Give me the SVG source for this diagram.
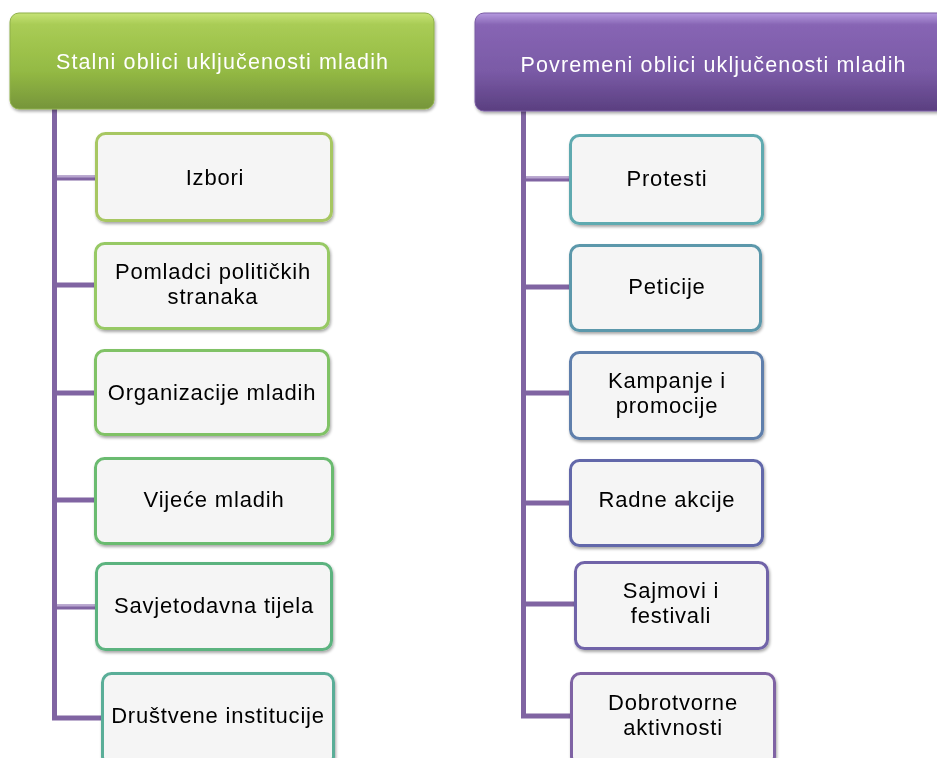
<svg xmlns="http://www.w3.org/2000/svg" width="937" height="758" viewBox="0 0 937 758">
<defs>
<linearGradient id="gGreen" x1="0" y1="0" x2="0" y2="1">
<stop offset="0" stop-color="#c6e376"/>
<stop offset="0.12" stop-color="#a9cc55"/>
<stop offset="0.6" stop-color="#94ba44"/>
<stop offset="1" stop-color="#76953a"/>
</linearGradient>
<linearGradient id="gPurple" x1="0" y1="0" x2="0" y2="1">
<stop offset="0" stop-color="#b69ae0"/>
<stop offset="0.12" stop-color="#8765b4"/>
<stop offset="0.6" stop-color="#7a5aa6"/>
<stop offset="1" stop-color="#5a3f80"/>
</linearGradient>
<filter id="sh" x="-10%" y="-10%" width="120%" height="130%">
<feGaussianBlur in="SourceAlpha" stdDeviation="1.5"/>
<feOffset dx="1" dy="2" result="b"/>
<feComponentTransfer><feFuncA type="linear" slope="0.35"/></feComponentTransfer>
<feMerge><feMergeNode/><feMergeNode in="SourceGraphic"/></feMerge>
</filter>
</defs>
<style>
.hdr{font-family:"Liberation Sans",Arial,sans-serif;font-size:21.5px;fill:#ffffff;text-anchor:middle}
.lbl{font-family:"Liberation Sans",Arial,sans-serif;font-size:22px;fill:#000000;text-anchor:middle;letter-spacing:0.8px}
.box{fill:#f5f5f5;stroke-width:3}
.ln{stroke:#8064a2;stroke-width:5;fill:none}
.hl{stroke:#b8a5cf;stroke-width:2;fill:none}
</style>
<g id="connectors">
<polyline class="ln" points="54.5,108 54.5,718 102,718"/>
<line class="ln" x1="54.5" y1="178" x2="96" y2="178"/>
<line class="hl" x1="57" y1="176.5" x2="96" y2="176.5"/>
<line class="ln" x1="54.5" y1="285" x2="95" y2="285"/>
<line class="ln" x1="54.5" y1="393" x2="95" y2="393"/>
<line class="ln" x1="54.5" y1="500" x2="95" y2="500"/>
<line class="ln" x1="54.5" y1="607" x2="96" y2="607"/>
<line class="hl" x1="57" y1="605.5" x2="96" y2="605.5"/>
<polyline class="ln" points="523.5,110 523.5,716 571,716"/>
<line class="ln" x1="523.5" y1="179" x2="570" y2="179"/>
<line class="hl" x1="526" y1="177.5" x2="570" y2="177.5"/>
<line class="ln" x1="523.5" y1="287" x2="570" y2="287"/>
<line class="ln" x1="523.5" y1="393" x2="570" y2="393"/>
<line class="ln" x1="523.5" y1="503" x2="570" y2="503"/>
<line class="ln" x1="523.5" y1="604" x2="575" y2="604"/>
</g>
<g id="hdr-left" filter="url(#sh)">
<rect x="10" y="13" width="424" height="96" rx="9" fill="url(#gGreen)" stroke="#8fb04a" stroke-width="1"/>
<text class="hdr" x="222" y="69" textLength="332" lengthAdjust="spacing">Stalni oblici uključenosti mladih</text>
</g>
<g id="hdr-right" filter="url(#sh)">
<rect x="475" y="13" width="480" height="98" rx="9" fill="url(#gPurple)" stroke="#7a5ca4" stroke-width="1"/>
<text class="hdr" x="713" y="72" textLength="385" lengthAdjust="spacing">Povremeni oblici uključenosti mladih</text>
</g>
<g id="n-izbori" filter="url(#sh)">
<rect class="box" x="96.5" y="133.5" width="235" height="87" rx="9" stroke="#a7c762"/>
<text class="lbl" x="215" y="185">Izbori</text>
</g>
<g id="n-pomladci" filter="url(#sh)">
<rect class="box" x="95.5" y="243.5" width="233" height="85" rx="9" stroke="#97c965"/>
<text class="lbl" x="213" y="279">Pomladci političkih</text>
<text class="lbl" x="213" y="304">stranaka</text>
</g>
<g id="n-organizacije" filter="url(#sh)">
<rect class="box" x="95.5" y="350.5" width="233" height="84" rx="9" stroke="#80c266"/>
<text class="lbl" x="212" y="400">Organizacije mladih</text>
</g>
<g id="n-vijece" filter="url(#sh)">
<rect class="box" x="95.5" y="458.5" width="237" height="85" rx="9" stroke="#6bbb70"/>
<text class="lbl" x="214" y="507">Vijeće mladih</text>
</g>
<g id="n-savjetodavna" filter="url(#sh)">
<rect class="box" x="96.5" y="563.5" width="235" height="86" rx="9" stroke="#5cb37f"/>
<text class="lbl" x="214" y="613">Savjetodavna tijela</text>
</g>
<g id="n-drustvene" filter="url(#sh)">
<rect class="box" x="102.5" y="673.5" width="231" height="92" rx="9" stroke="#5aae98"/>
<text class="lbl" x="218" y="723">Društvene institucije</text>
</g>
<g id="n-protesti" filter="url(#sh)">
<rect class="box" x="570.5" y="135.5" width="192" height="88" rx="9" stroke="#5eaab0"/>
<text class="lbl" x="667" y="186">Protesti</text>
</g>
<g id="n-peticije" filter="url(#sh)">
<rect class="box" x="570.5" y="245.5" width="190" height="85" rx="9" stroke="#5b98ab"/>
<text class="lbl" x="667" y="294">Peticije</text>
</g>
<g id="n-kampanje" filter="url(#sh)">
<rect class="box" x="570.5" y="352.5" width="192" height="86" rx="9" stroke="#5e7fac"/>
<text class="lbl" x="667" y="388">Kampanje i</text>
<text class="lbl" x="667" y="413">promocije</text>
</g>
<g id="n-radne" filter="url(#sh)">
<rect class="box" x="570.5" y="460.5" width="192" height="85" rx="9" stroke="#6268aa"/>
<text class="lbl" x="667" y="507">Radne akcije</text>
</g>
<g id="n-sajmovi" filter="url(#sh)">
<rect class="box" x="575.5" y="562.5" width="192" height="86" rx="9" stroke="#7064a8"/>
<text class="lbl" x="671" y="598">Sajmovi i</text>
<text class="lbl" x="671" y="623">festivali</text>
</g>
<g id="n-dobrotvorne" filter="url(#sh)">
<rect class="box" x="571.5" y="673.5" width="203" height="92" rx="9" stroke="#7f64a4"/>
<text class="lbl" x="673" y="710">Dobrotvorne</text>
<text class="lbl" x="673" y="735">aktivnosti</text>
</g>
</svg>
